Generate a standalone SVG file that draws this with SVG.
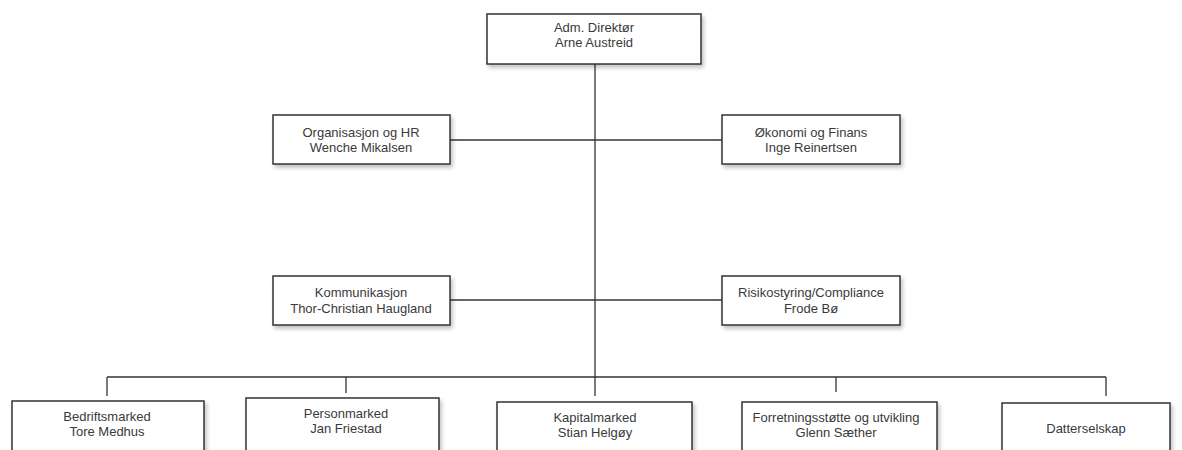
<svg xmlns="http://www.w3.org/2000/svg" width="1182" height="450" viewBox="0 0 1182 450">
  <defs>
    <filter id="shadow" x="-5%" y="-10%" width="115%" height="140%">
      <feGaussianBlur in="SourceAlpha" stdDeviation="2"/>
      <feOffset dx="2" dy="3" result="b"/>
      <feComponentTransfer><feFuncA type="linear" slope="0.25"/></feComponentTransfer>
      <feMerge><feMergeNode/><feMergeNode in="SourceGraphic"/></feMerge>
    </filter>
  </defs>
  <style>
    .box { fill: #ffffff; stroke: #333333; stroke-width: 1.5; filter: url(#shadow); }
    .lbl { font-family: "Liberation Sans", Arial, sans-serif; font-size: 13px; fill: #3a3a3a; text-anchor: middle; }
    .wire { fill: none; stroke: #333333; stroke-width: 1.3; }
  </style>
  <rect width="1182" height="450" fill="#ffffff"/>

  <g id="connectors">
    <path class="wire" d="M595 64 V396"/>
    <path class="wire" d="M450 140 H722"/>
    <path class="wire" d="M450 300 H722"/>
    <path class="wire" d="M107 377 H1106"/>
    <path class="wire" d="M107 377 V396"/>
    <path class="wire" d="M346 377 V393"/>
    <path class="wire" d="M836 377 V392"/>
    <path class="wire" d="M1106 377 V396"/>
  </g>

  <g id="ceo">
    <rect class="box" x="487" y="14" width="214" height="50"/>
    <text class="lbl" x="594" y="32">Adm. Direktør</text>
    <text class="lbl" x="594" y="47">Arne Austreid</text>
  </g>

  <g id="hr">
    <rect class="box" x="273" y="115" width="177" height="49"/>
    <text class="lbl" x="361" y="137">Organisasjon og HR</text>
    <text class="lbl" x="361" y="152">Wenche Mikalsen</text>
  </g>

  <g id="finance">
    <rect class="box" x="722" y="115" width="178" height="49"/>
    <text class="lbl" x="811" y="137">Økonomi og Finans</text>
    <text class="lbl" x="811" y="152">Inge Reinertsen</text>
  </g>

  <g id="communication">
    <rect class="box" x="273" y="276" width="177" height="49"/>
    <text class="lbl" x="361" y="297">Kommunikasjon</text>
    <text class="lbl" x="361" y="313">Thor-Christian Haugland</text>
  </g>

  <g id="risk">
    <rect class="box" x="722" y="276" width="178" height="49"/>
    <text class="lbl" x="811" y="297">Risikostyring/Compliance</text>
    <text class="lbl" x="811" y="313">Frode Bø</text>
  </g>

  <g id="corporate">
    <rect class="box" x="12" y="401" width="192" height="60"/>
    <text class="lbl" x="107" y="421">Bedriftsmarked</text>
    <text class="lbl" x="107" y="436">Tore Medhus</text>
  </g>

  <g id="retail">
    <rect class="box" x="246" y="398" width="193" height="60"/>
    <text class="lbl" x="346" y="418">Personmarked</text>
    <text class="lbl" x="346" y="433">Jan Friestad</text>
  </g>

  <g id="capital">
    <rect class="box" x="497" y="402" width="195" height="60"/>
    <text class="lbl" x="595" y="422">Kapitalmarked</text>
    <text class="lbl" x="595" y="437">Stian Helgøy</text>
  </g>

  <g id="business-support">
    <rect class="box" x="742" y="402" width="195" height="60"/>
    <text class="lbl" x="836" y="422">Forretningsstøtte og utvikling</text>
    <text class="lbl" x="836" y="437">Glenn Sæther</text>
  </g>

  <g id="subsidiaries">
    <rect class="box" x="1002" y="403" width="168" height="60"/>
    <text class="lbl" x="1086" y="433">Datterselskap</text>
  </g>
</svg>
